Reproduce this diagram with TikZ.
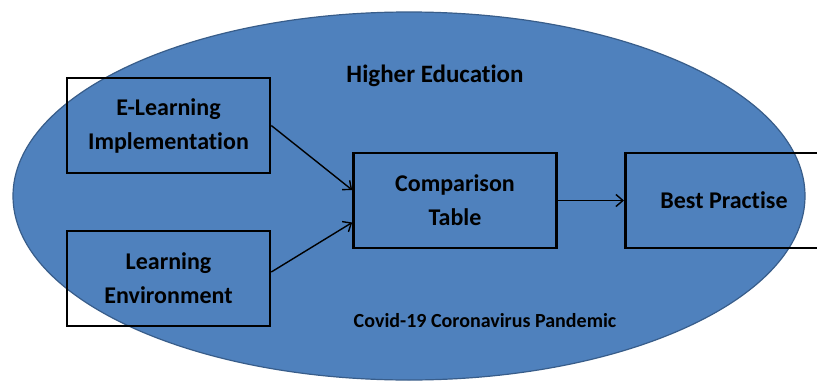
\documentclass[tikz,border=0pt]{standalone}
\usepackage{fontspec}
\setmainfont[Ligatures=NoCommon]{Carlito}
\usetikzlibrary{arrows.meta}
\definecolor{ellfill}{RGB}{79,129,189}
\definecolor{elldraw}{RGB}{56,93,138}
\tikzset{
  box/.style={draw=black, line width=2.6pt, rectangle, minimum width=203pt, minimum height=95pt, inner sep=0pt, align=center, font=\bfseries\fontsize{24}{34}\selectfont},
  lbl/.style={inner sep=0pt, font=\bfseries\fontsize{24}{34}\selectfont},
  conn/.style={line width=1.4pt, -{Straight Barb[length=7pt,width=12pt,line width=1.4pt]}}
}
\begin{document}
\begin{tikzpicture}[x=1pt,y=-1pt]
\clip (0,0) rectangle (817,383);
\fill[white] (0,0) rectangle (817,383);
\path[fill=ellfill, draw=elldraw, line width=1.2pt] (409,196) ellipse [x radius=396, y radius=184];
\node[lbl, font=\bfseries\fontsize{25}{30}\selectfont] (he) at (435,76) {Higher Education};
\node[lbl, font=\bfseries\fontsize{20}{24}\selectfont] (cv) at (485,321) {Covid-19 Coronavirus Pandemic};
\node[box] (el) at (168.5,125.5) {E-Learning\\Implementation};
\node[box] (le) at (168.5,278.5) {Learning\\Environment};
\node[box] (ct) at (455,200.5) {Comparison\\Table};
\node[box, anchor=west, minimum width=230pt] (bp) at (624,200.5) {};
\node[lbl] (bpt) at (724,200) {Best Practise};
\draw[conn] (el.east) -- ([yshift=10.5pt]ct.west);
\draw[conn] ([yshift=6.5pt]le.east) -- ([yshift=-22pt]ct.west);
\draw[conn] (ct.east) -- (bp.west);
\end{tikzpicture}
\end{document}
